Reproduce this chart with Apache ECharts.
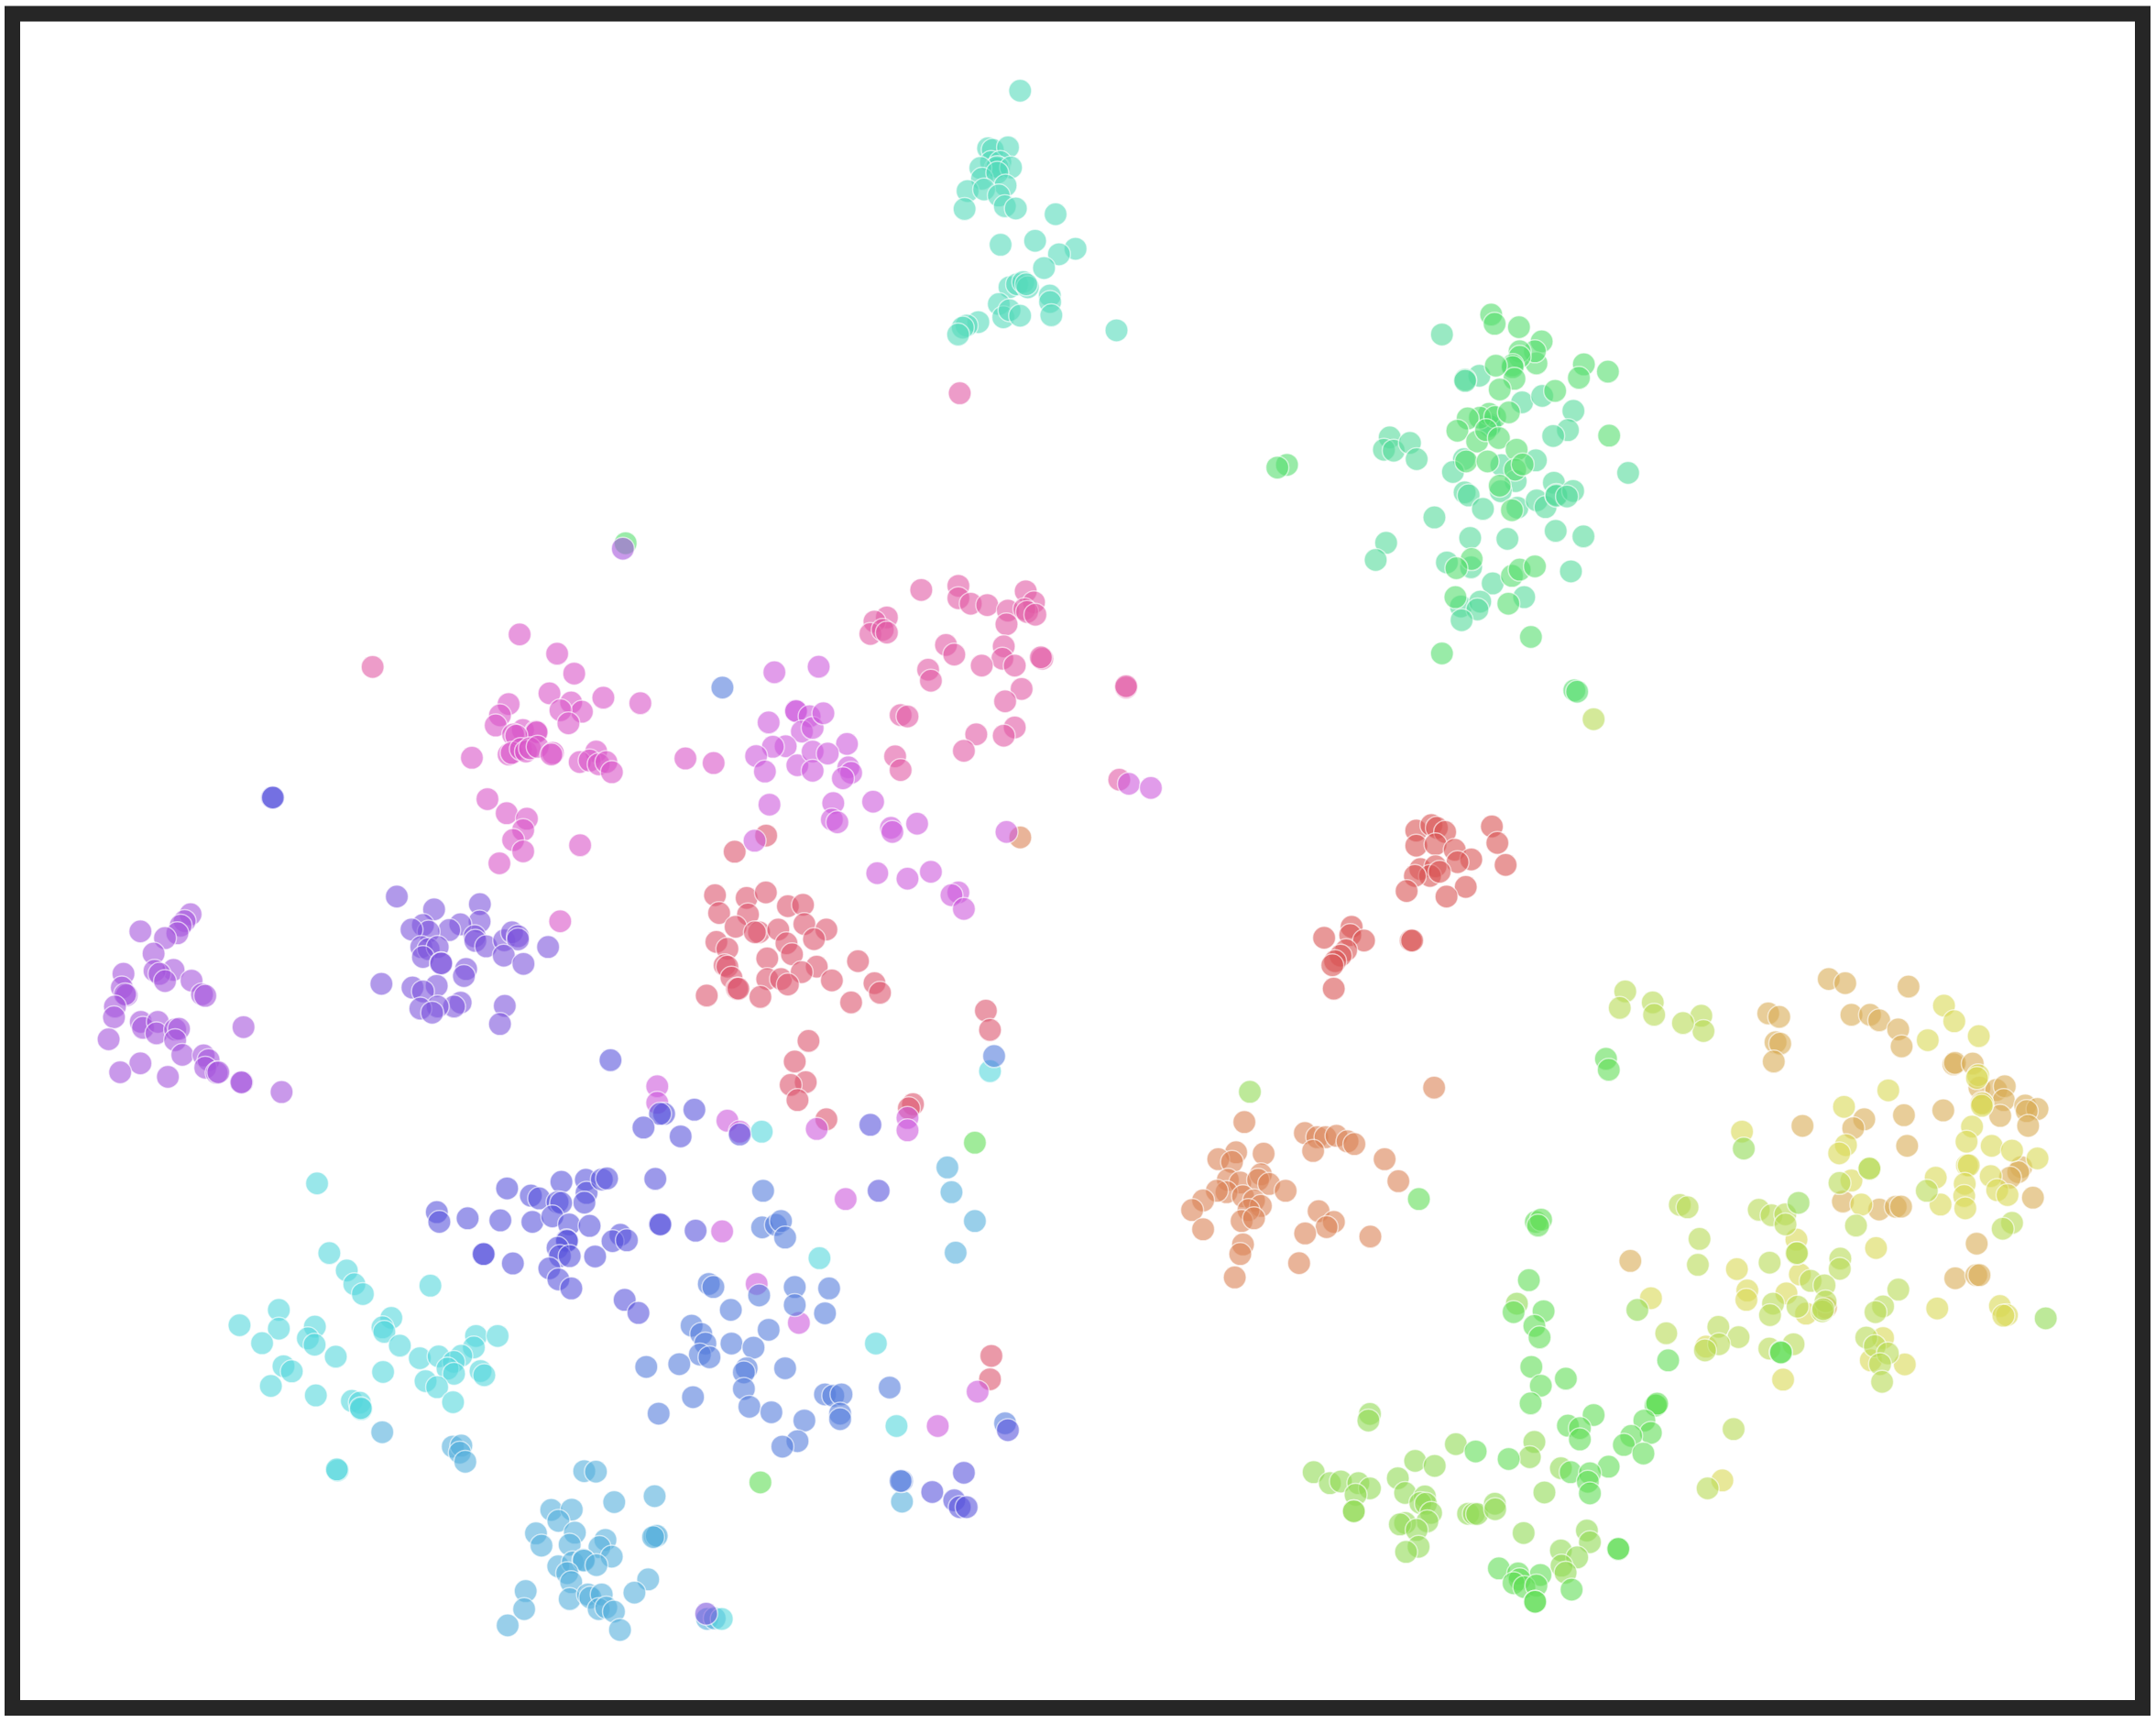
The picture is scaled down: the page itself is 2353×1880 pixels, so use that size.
<!DOCTYPE html>
<html><head><meta charset="utf-8">
<style>html,body{margin:0;padding:0;background:#fff}#c{width:2353px;height:1880px}</style>
<script src="https://cdn.jsdelivr.net/npm/echarts@6/dist/echarts.min.js"></script>
</head><body><div id="c"></div>
<script>
const mint=[[741.9,66],[718.6,107.8],[722,108.9],[733.1,107.1],[720.8,117.8],[727.5,117.8],[726.4,122.2],[724.2,122.2],[725.3,121.5],[735.3,121.8],[713,122.2],[714.2,130],[725.3,125.6],[731.3,134.9],[703.7,138.9],[715.7,137.8],[726.4,142.2],[730.8,150],[738.8,151.6],[701.5,152],[767.7,155.8],[727.7,178],[752.8,175.1],[782.2,180.9],[770.2,184.9],[759.3,194.9],[734.2,208.9],[739.7,206.7],[744.2,205.1],[747.5,208.9],[746.4,206.7],[763.5,214.9],[763.7,219.6],[764.6,229.3],[726.4,221.1],[729.7,230.7],[734.2,225.6],[741.9,229.6],[711.5,234.2],[703,236.7],[700.2,238.2],[696.8,243.3],[812,240.2]];
const spring=[[1048.7,243.2],[1075.9,273.2],[1065.6,276.1],[1065.6,277],[1107,292.6],[1121.6,287.9],[1144.3,298.8],[1140.3,312.8],[1129.6,317],[1083.6,308.8],[1083.6,309.9],[1010.7,318.1],[1006.5,327],[1013.6,327.7],[1025.4,322.1],[1030.3,333.9],[1064.7,333.9],[1091.9,338.3],[1117,334.8],[1056.7,343.2],[1184.1,343.9],[1102.3,349.9],[1091.4,357.2],[1065.2,358.1],[1068.1,360.3],[1078.5,370.1],[1103.6,369.2],[1117.6,363.9],[1124,368.8],[1130.1,351],[1131.9,359.9],[1131.9,360.5],[1144.1,357],[1139.6,361],[1043.2,376.3],[1131.4,386.1],[1151.6,390.1],[1069.2,391.2],[1096.3,391.9],[1008.1,394.8],[1000.5,407.2],[1052.3,409],[1069.9,412.6],[1142.5,415.5],[1085.6,424.3],[1108.5,434.3],[1062.5,441],[1076.5,437.5],[1074.5,443.2],[1063,451]];
const greenTop=[[1084.5,228.8],[1087,235.5],[1104.7,237.9],[1121.2,248.3],[1151.9,265],[1169.4,270.3],[1148.3,274.8],[1117.4,264.3],[1116.3,255.5],[1105.2,255.5],[1105.2,259.5],[1100.1,265.5],[1100.1,267],[1101.4,275.5],[1087.9,265.9],[1090.7,283.2],[1131,284.3],[1083,301],[1076.3,303.7],[1087.4,303.2],[1097.4,299.9],[1067.4,304.3],[1059.9,313.2],[1074.3,321],[1080.8,312.8],[1090.1,318.6],[1103,327],[1170.3,316.8],[1066.3,335.5],[1081.9,335.5],[1101.9,341.5],[1107.4,337.7],[1090.7,353.2],[1099.6,371],[1070.3,406.6],[1059.2,413.2],[1099.6,418.8],[1105.2,414.3],[1116.3,411.9],[1058.5,434.3],[1097,439],[1113.4,463.2],[1048.7,475.2],[936,338],[929,340],[455,395],[1145,502],[1147,503]];
const red=[[1030,604],[1041,600],[1045,602],[1051,605],[1085,601],[1089,613],[1030,615],[1044,614],[1058,618],[1095,629],[1070,625],[1060,627],[1033,632],[1044,630],[1040,637],[1047,634],[1029,637],[1066,645],[1023,648],[1052,652],[963,682],[983,674],[982,680],[992,684],[979,691],[975,695],[971,699],[969,702],[1026,684],[1027,684],[970,719]];
const orange=[[905,816],[949,824],[958,827],[964,827],[972,826],[980,830],[985,832],[1007,843],[955,837],[919,839],[899,838],[886,843],[896,845],[893,858],[902,860],[917,854],[915,858],[892,867],[904,870],[885,866],[923,861],[935,866],[912,873],[875,873],[867,880],[917,877],[908,880],[903,888],[912,886],[875,894],[959,880.8],[970.1,888.6],[964.8,892.4],[949.2,897],[996.6,899.3],[904,905],[902,912],[944.8,918.6],[898,929],[1017,859],[1043,791],[742,609]];
const amber=[[1330,712],[1342,715],[1388,717.5],[1286,737],[1294,739.5],[1346.5,738],[1360,738],[1366.7,742],[1380.5,748.6],[1383,761],[1291.3,758],[1294.7,759],[1290,772],[1420.7,774],[1421.8,773],[1434.7,773.5],[1439.6,791],[1451.8,792.7],[1458,790],[1457.3,800],[1441.3,802],[1454.7,811.5],[1472.9,804],[1481.8,806.5],[1474,808],[1475,818.7],[1413.3,807.5],[1384.7,811],[1355.8,814],[1347.8,820.4],[1310.9,818.7],[1387,833.3],[1470,848.7],[1467.8,852.4],[1461.8,856.4],[1478.5,871],[1340.3,873.8],[1366.7,879.6],[1378.7,877.6],[1382.6,877.5],[1437.6,904.4],[1422,929.6],[1437.3,927.3],[1439.6,927.3],[1185.7,917],[1328,950.8]];
const yellow=[[1413.8,731.3],[1421.3,742.7],[1439.1,753.5],[1402,756.4],[1438.7,782],[1437.8,784],[1373.3,792.9],[1341.1,804.9],[1441.8,802.7],[1441.3,804.2],[1434.2,819.3],[1430.2,830.2],[1448.5,833.3],[1463.3,836.7],[1481.8,842.4],[1342.5,832.7],[1337.6,838.7],[1430.5,847.5],[1431.8,847.5],[1447.8,855.3],[1407.8,856.4],[1346.5,858.5],[1428.9,860.9],[1452.5,865.5],[1460,869.1],[1428.5,869.8],[1411.3,876],[1429.3,878.7],[1353.7,876],[1266.9,822.9],[1364.4,907.6],[1306.5,901.5],[1263.2,922.9],[1309,926.8],[1270.8,938.5],[1270.1,945.3],[1299.2,940.5],[1408.9,951.5],[1454.5,949.8],[1459.6,956.4],[1457,956.8],[1313.5,955.3],[1200.7,944],[1240.8,979.3],[1369.5,973],[1360.6,989.3],[1385.3,992.2],[1296.8,1003.3],[1252.6,1076.6]];
const lime=[[1237.3,738.7],[1238.9,749.8],[1182,721],[1178,733],[1202,729],[1203,738],[1224,744],[1337.8,860.3],[1401.3,866],[1349.8,891.3],[1463.3,889.3],[1456.5,893.6],[1221.7,876.2],[1227.3,878],[1236,901],[1234.8,919.8],[1279.1,879.8],[1288.4,883.8],[1298.4,883.1],[1298.5,890.4],[1306.5,911.5],[1306.9,911.3],[1287,918.2],[1338.4,915.3],[1338,922.7],[1316.8,931.5],[1326.9,934.7],[1327.7,946.4],[1380.6,937.8],[1369.5,950],[1364,954.2],[1289.5,948],[1307.3,950.2],[1287.3,956.4],[1325.3,953.5],[1326,952],[1249.7,964.9],[1264.4,972.4],[1250.2,977.5],[1240,982],[1286.8,980.7],[1304.4,977.5],[1211.8,969.6],[1357.3,972.7],[1363.5,978.9],[1373,984.2],[1367.3,992],[1368.8,1004.9],[1260.8,1039.3],[1241.9,1082.4],[1359.6,849.8],[1359.6,849.8],[1159,523]];
const paleGreen=[[1268.2,835.3],[1308,874.7],[1487.8,958.7],[909,794],[1103.2,948],[996.3,1028.2],[995.2,1033],[1115.9,1048.6],[1112.6,1059.7],[1135.2,1067.7],[1123.2,1085.3],[1058.8,1050.2],[1029.2,1062.4],[1043.4,1066],[955.4,1070.6],[967.2,1078.6],[975.2,1077.3],[987.9,1078.6],[996.3,1082.4],[985.9,1087],[984.6,1099],[984.6,1099],[1016.6,1075],[1021.9,1085.7],[1036.3,1088.2],[1033,1093],[1037,1093.5],[1040.8,1100.2],[1038.1,1106.4],[1021.9,1107.5],[1018.1,1108.6],[1030.3,1112.6],[1031.7,1124.8],[1022.6,1128.6],[1067.7,1100.8],[1071.9,1100.8],[1074.3,1101],[1087.2,1093.5],[1087.4,1097.5],[1108.1,1114.8],[1154.1,1113],[1156.3,1121.5],[1135.2,1127.5],[1147,1132.6],[1135.7,1138.6],[1138.6,1143.7],[1190.8,952.6]];
const green=[[1031.9,872],[709,831],[1168,770],[1170,778],[1117,888.6],[1120.8,887],[1118.6,891.3],[1111.9,931],[1100.8,954.2],[1122.6,953.5],[1115.9,964.2],[1119.7,972.6],[1113.7,994],[1138.8,1002.6],[1120.6,1007.7],[1113.2,1020.6],[1203.9,1022],[1204.3,1022],[1205.2,1020.8],[1195.9,1033],[1200.6,1042],[1186.3,1044.2],[1181,1050.8],[1195.2,1057],[1159,1029],[1140.3,1036.8],[1149,1038.6],[1149,1046.8],[1097.2,1061],[1169.9,1066.6],[1142.3,1070.6],[1156.3,1071.3],[1154.8,1077.5],[1156.3,1086],[1073.2,1055.5],[1176.8,1126.4],[1177,1126.4],[1090.1,1140.6],[1120.3,1145.3],[1104.1,1144.2],[1105.2,1148.6],[1100.8,1151.3],[1108.6,1154.2],[1117.4,1153.1],[1116.3,1164.8],[1116.5,1164.8],[1143,1156],[1213.2,989.3],[1295,983.3],[1295.3,983.5],[553,1078]];
const pink=[[698,286],[670,429],[697,426],[697,435],[746,430],[706,439],[718,440],[733,444],[752,438],[745,443],[747,445],[645,449],[636,452],[633,461],[642,458],[645,460],[753,447],[732,454],[688,469],[730,470],[694,476],[729,479],[758,479],[757,478],[714,484],[738,484],[675,487],[677,495],[743,501],[731,510],[655,520],[660,521],[738,529],[730,535],[710,534],[701,546],[651,550],[655,560],[819,500],[819,499],[271,485],[814,567]];
const rose=[[534.3,619.4],[557.2,607.6],[520,651],[543,653],[557,649],[573,659],[584,658],[523,664],[544,665],[535,674],[552,678],[566,676],[585,672],[601,676],[521,685],[529,690],[549,678],[572,686],[592,683],[558,697],[576,694],[527,702],[529,703],[594,703],[624,699],[532,711],[558,712],[568,712],[583,707],[605,713],[536,719],[573,716],[514,724],[537,719],[553,725],[636,715],[640,722],[619,729],[588,757],[578,772],[586,787],[575,789],[580,800],[601,814],[717,735],[720,749],[721,986],[720,1003],[664,803],[661,806]];
const orchid=[[563.2,488.9],[595.4,484.9],[578.8,516.9],[579,517.2],[588.8,520.9],[583.2,532],[591,529.4],[559,525.4],[598.8,518.7],[571.4,542.7],[562.1,543.1],[549.9,549.8],[556.3,561.1],[579.9,556.5],[591,546.5],[591,560.5],[616,541],[602,548],[617,558],[619,562],[613,566],[559.6,585.1],[606,584],[635,583],[605,596],[609,598],[648,602],[649,605],[667,599],[548.8,611.4],[732,605],[638,635],[660,639],[677,634],[697,649],[692,651],[701,661],[821,570],[837,573],[478,790],[478,802],[529,815],[538,823],[594,821],[660,813],[660,822],[615,872],[525.2,895.5],[550.3,933.7],[581,962],[711,1012],[682,1037]];
const magenta=[[377.9,461.4],[405.2,475.4],[417.6,489.8],[399.6,504.2],[438.8,507.4],[465.7,511.4],[369.9,512],[415.4,510.9],[423.2,517.6],[407.6,516.5],[363.6,520.2],[360.5,527.6],[413.4,526],[380.3,530.9],[389.9,532],[390.3,532.5],[373.2,534.2],[375.5,535],[343.2,551.1],[369.9,548.7],[372.1,547.6],[378.8,544.7],[382.5,546.5],[385.4,544.2],[391,543.1],[402.1,547.6],[401,548.7],[433.6,546.5],[421.6,554.2],[428.8,553.1],[435.4,555.8],[441,554.2],[445,561.6],[354.5,581.1],[368.5,591.4],[383.2,595.4],[380.5,603.6],[373.2,610.9],[380.5,619.1],[363.2,627.8],[421.9,614.7],[498.5,551.6],[519,554.9],[407.4,670]];
const violet=[[138.6,664.9],[134.3,669.8],[131.4,673.1],[129,678.7],[102.1,677.3],[120,682.2],[111.7,693.5],[126.2,705.3],[112.4,706],[116,708.2],[120,713.5],[89.8,708.2],[88.6,718.2],[92.1,723.8],[91,723.1],[139.3,713.1],[146.9,723.1],[149.3,724.2],[83.6,732],[82.9,739.8],[177.1,746.9],[102.4,743.1],[104,747.5],[114.8,743.1],[113.8,751.5],[127.4,748.7],[130.2,748.2],[127.4,756.4],[79,755.8],[132.6,767.1],[148.1,767.5],[151.7,770.9],[149.3,776.4],[157.6,780.2],[158.8,779.8],[102.1,773.3],[87.4,779.8],[122.1,783.1],[176,787.1],[175.5,787.1],[204.8,794.2],[453,399]];
const purple=[[288.6,652],[315.7,661.3],[349,657.5],[348.8,670.2],[334.8,672.2],[326.7,676.4],[307.6,672.7],[311.7,677.5],[299.3,676],[345.2,680.9],[345.7,684.2],[353.6,688.2],[366.7,683.8],[372.4,678],[376.7,680.9],[376.7,683.1],[366.4,694.9],[380.7,700.9],[398.6,688.7],[306.4,688.7],[311.7,690.2],[318.3,688.7],[307.6,696],[320.7,700.4],[320.9,700.6],[339,704.7],[337.4,709.8],[277.4,715.5],[300,718.2],[317.6,716.9],[307.6,720.9],[335,729.1],[330.2,732],[318.3,732],[305.7,733.5],[314.3,736.4],[367.1,731.5],[363.6,744.7],[513.6,1173.5]];
const indigo=[[198,580],[198.5,580],[444,771],[483,810],[480,810],[505,807],[468,820],[495,826.4],[538,825],[633,818],[368.8,864.2],[386.1,869.5],[392.1,871.5],[408.3,859.5],[426.1,858],[426.6,867.5],[425,874.6],[437.7,857.7],[441.5,857],[476.6,857.3],[405.5,874.2],[408.1,874.8],[317.7,881.5],[319.5,888.6],[340.1,886],[363.9,887.5],[387.2,888.6],[401.7,884.6],[413.9,890.4],[428.8,891.5],[479.9,890.4],[480.3,890.4],[505.9,895],[451.2,898],[445.5,902.6],[455.9,902],[412.1,902],[412.4,902.5],[405.5,907.5],[407.2,913.5],[414.3,913.5],[432.8,913.7],[351.5,912],[351.8,912],[373,918.8],[399.5,922.4],[406.1,930.4],[415.5,937],[454.3,945.3],[464.3,954.8],[639,866],[733,1040],[701,1071],[678,1085],[694,1091],[698,1096],[703,1096]];
const blue=[[525.4,500],[555,866],[554.3,892.6],[564.3,890.8],[568,888],[571,900],[515.5,933.7],[518.8,936],[578,936],[603,937],[552.1,942],[578,949],[531.5,952.6],[600,955],[503,964],[510,970],[559,967],[513,977],[532,977],[548,980],[509,985],[516,987],[470,994],[494,992],[543,995],[571,995],[541,998],[600,1014],[606,1015],[612,1014],[541,1010],[647,1009],[504,1016],[479,1028],[545,1023],[561,1027],[611,1028],[611,1032],[585,1033],[580,1048],[569,1052],[656,1077],[655,1077],[723,768],[731,1035]];
const sky=[[689,849],[692,867],[709,888],[695,911],[424.9,1069.8],[433.4,1070.2],[446.7,1092.4],[476.1,1088],[400.9,1098],[415.8,1097.8],[406.1,1106],[389.8,1115.1],[393.8,1124],[418.1,1114.6],[476.3,1117.3],[477.6,1116.9],[475,1117.8],[414.3,1123.3],[440.3,1119.8],[436,1125.1],[444.9,1132],[406,1139.1],[416.5,1136.2],[424.3,1134.4],[424.6,1134.8],[433.8,1138.2],[412.5,1144],[415.4,1150.6],[414.3,1162.9],[382.3,1157.1],[381.2,1170.2],[369.2,1182],[471.4,1148.6],[461.4,1158.2],[427.6,1159.5],[429.4,1161.8],[437.6,1159.5],[435.4,1170.2],[440.9,1169],[446.5,1172],[450.9,1185.3],[514.3,1177.3],[519.8,1176.9],[656,1092],[278,1041.5],[329.3,1052],[335.5,1051.3],[334.4,1056.4],[338.4,1063]];
const cyan=[[230.6,860.6],[239.5,911.3],[252.2,923.9],[257.7,933.9],[263.9,941],[313,935],[284.6,958.4],[278.2,965.3],[279.5,968.6],[202.8,952.6],[174.2,963.7],[202.8,966.2],[229,964.8],[223.9,973.3],[228.8,977.9],[190.6,976.8],[244.2,986.6],[290.8,978.6],[346.2,971.5],[361.9,971.5],[344.6,979.9],[305.3,987.7],[319,986.4],[335.5,985.9],[330,990.4],[325.5,995.3],[330.2,999],[349.5,997],[352.2,1000.1],[206.2,993.5],[212.2,997.3],[278.6,997.7],[309.5,1004.4],[317.9,1008.8],[197,1007.9],[229.7,1014.8],[255.9,1018.8],[261.7,1020.1],[262.6,1024.8],[262.4,1024],[329.5,1019.7],[245.5,1069.3],[245,1068.6],[652,1037],[596,915],[637,977],[554,823],[720,779],[524.9,1177.3]];

const groups=[
 [mint,'rgb(85,218,187)'],[spring,'rgb(85,218,155)'],[greenTop,'rgb(85,222,110)'],[red,'rgb(217,83,83)'],[orange,'rgb(219,130,85)'],
 [amber,'rgb(217,172,85)'],[yellow,'rgb(217,217,85)'],[lime,'rgb(183,219,85)'],[paleGreen,'rgb(145,219,85)'],[green,'rgb(97,221,87)'],
 [pink,'rgb(225,90,165)'],[rose,'rgb(220,85,110)'],[orchid,'rgb(205,90,220)'],[magenta,'rgb(217,85,200)'],
 [sky,'rgb(85,175,220)'],[cyan,'rgb(85,215,220)'],[blue,'rgb(85,125,220)'],
 [violet,'rgb(165,85,220)'],[purple,'rgb(125,85,220)'],[indigo,'rgb(90,85,220)']
];
const chart=echarts.init(document.getElementById('c'));
const sx=2353/1568, sy=1880/1253;
const L=13.5,R=2338.5,T=15,B=1863.5;
chart.setOption({
 animation:false,
 backgroundColor:'#fff',
 grid:{show:true,left:L,top:T,width:R-L,height:B-T,borderColor:'#262626',borderWidth:17,backgroundColor:'#fff',z:0},
 xAxis:{type:'value',min:L/sx,max:R/sx,show:false},
 yAxis:{type:'value',inverse:true,min:T/sy,max:B/sy,show:false},
 series:groups.map(g=>({type:'scatter',data:g[0],symbol:'circle',symbolSize:25,silent:true,
   itemStyle:{color:g[1],opacity:0.6,borderColor:'#fff',borderWidth:1.5}}))
});
</script></body></html>
